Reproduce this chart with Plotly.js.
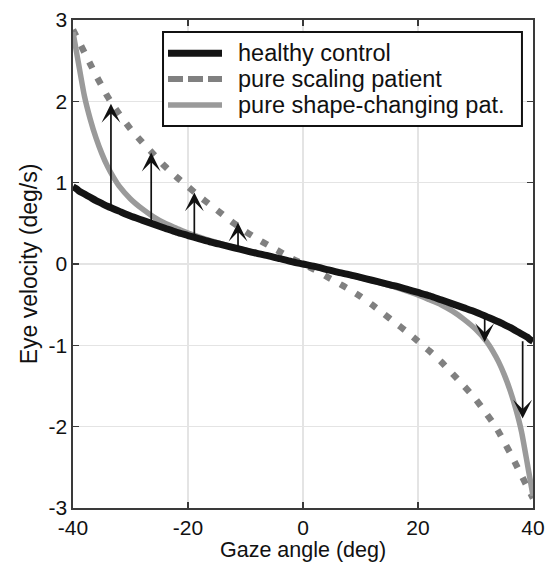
<!DOCTYPE html>
<html>
<head>
<meta charset="utf-8">
<script src="https://cdn.plot.ly/plotly-3.0.1.min.js"></script>
<style>html,body{margin:0;padding:0;background:#fff;}#chart{width:550px;height:562px;}</style>
</head>
<body>
<div id="chart"></div>
<script>
// Gaze angle samples (deg)
var gaze = [-40,-39.5,-39,-38,-37,-36,-35,-34,-33,-32,-30,-28,-26,-24,-22,-20,-18,-16,-14,-12,-10,-8,-6,-4,-2,0,
            2,4,6,8,10,12,14,16,18,20,22,24,26,28,30,32,33,34,35,36,37,38,39,39.5,40];
// Eye velocity (deg/s)
var healthy = [0.95,0.93,0.90,0.86,0.82,0.78,0.745,0.71,0.68,0.65,0.59,0.54,0.49,0.44,0.39,0.35,0.31,0.27,0.235,0.20,0.165,0.13,0.10,0.065,0.03,0,
               -0.03,-0.065,-0.10,-0.13,-0.165,-0.20,-0.235,-0.27,-0.31,-0.35,-0.39,-0.44,-0.49,-0.54,-0.59,-0.65,-0.68,-0.71,-0.745,-0.78,-0.82,-0.86,-0.90,-0.93,-0.95];
var scaling = [2.88,2.81,2.74,2.60,2.46,2.32,2.19,2.06,1.95,1.85,1.66,1.50,1.35,1.20,1.07,0.95,0.83,0.72,0.61,0.50,0.40,0.31,0.23,0.15,0.07,0,
               -0.07,-0.15,-0.23,-0.31,-0.40,-0.50,-0.61,-0.72,-0.83,-0.95,-1.07,-1.20,-1.35,-1.50,-1.66,-1.85,-1.95,-2.06,-2.19,-2.32,-2.46,-2.60,-2.74,-2.81,-2.88];
var shape = [2.85,2.65,2.45,2.06,1.78,1.55,1.36,1.20,1.07,0.96,0.80,0.68,0.58,0.50,0.44,0.38,0.33,0.285,0.245,0.205,0.17,0.135,0.10,0.067,0.033,0,
             -0.033,-0.067,-0.10,-0.135,-0.17,-0.205,-0.245,-0.285,-0.33,-0.38,-0.44,-0.50,-0.58,-0.68,-0.80,-0.96,-1.07,-1.20,-1.36,-1.55,-1.78,-2.06,-2.45,-2.65,-2.85];
var seriesNames = ['healthy control','pure scaling patient','pure shape-changing pat.'];
// Arrows: x position, start value, end value
var arrowX    = [-33.4,-26.4,-18.9,-11.3,31.6,38.2];
var arrowFrom = [0.69,0.49,0.33,0.19,-0.64,-0.93];
var arrowTo   = [1.97,1.37,0.88,0.51,-0.96,-1.90];
var xTicks = [-40,-20,0,20,40];
var yTicks = [-3,-2,-1,0,1,2,3];
var xTitle = 'Gaze angle (deg)', yTitle = 'Eye velocity (deg/s)';

var colHealthy = '#141414', colScaling = '#808080', colShape = '#9a9a9a';
var font = 'Liberation Sans, Arial, Helvetica, sans-serif';

var traces = [
  {x: gaze, y: scaling, mode:'lines', line:{color:colScaling, width:6.5, dash:'7px,11px', shape:'spline', smoothing:0.6}, showlegend:false, hoverinfo:'skip'},
  {x: gaze, y: shape, mode:'lines', line:{color:colShape, width:5.5, shape:'spline', smoothing:0.6}, showlegend:false, hoverinfo:'skip'},
  {x: gaze, y: healthy, mode:'lines', line:{color:colHealthy, width:7, shape:'spline', smoothing:0.6}, showlegend:false, hoverinfo:'skip'}
];

var annotations = [];
for (var i = 0; i < arrowX.length; i++) {
  annotations.push({x: arrowX[i], y: arrowTo[i], ax: arrowX[i], ay: arrowFrom[i], xref:'x', yref:'y', axref:'x', ayref:'y',
    text:'', showarrow:true, arrowhead:3, arrowsize:1.85, arrowwidth:1.7, arrowcolor:'#111', standoff:0, startstandoff:0});
}

// Custom legend (paper coords)
var lx0 = 0.1957, lx1 = 0.976, ly0 = 0.7828, ly1 = 0.9754;
var shapes = [
  {type:'rect', xref:'paper', yref:'paper', x0:lx0, x1:lx1, y0:ly0, y1:ly1, line:{color:'#111', width:2}, fillcolor:'#fff', layer:'above'}
];
var legRowsY = [0.932, 0.879, 0.826];
var legStyles = [
  {color:colHealthy, width:7, dash:'solid'},
  {color:colScaling, width:6, dash:'15px,5px'},
  {color:colShape, width:5.5, dash:'solid'}
];
var sx0 = (168-73)/460, sx1 = (222-73)/460;
for (var j = 0; j < 3; j++) {
  shapes.push({type:'line', xref:'paper', yref:'paper', x0:sx0, x1:sx1, y0:legRowsY[j], y1:legRowsY[j], line:legStyles[j], layer:'above'});
  annotations.push({xref:'paper', yref:'paper', x:(236-73)/460, y:legRowsY[j], xanchor:'left', yanchor:'middle', text:seriesNames[j], showarrow:false,
    font:{family:font, size:23.5, color:'#111'}});
}
// x-axis title as annotation (below tick labels)
annotations.push({xref:'paper', yref:'paper', x:0.5, y:(508-549.5)/488, xanchor:'center', yanchor:'middle', text:xTitle, showarrow:false,
  borderpad:0, font:{family:font, size:21.5, color:'#111'}});

var axisCommon = {
  showline:true, linecolor:'#3a3a3a', linewidth:1.6, mirror:'allticks',
  ticks:'inside', ticklen:6, tickwidth:1.6, tickcolor:'#3a3a3a',
  showgrid:true, gridcolor:'#e4e4e4', gridwidth:1.6, zeroline:false,
  tickfont:{family:font, size:21, color:'#111'}
};
var layout = {
  width:550, height:562,
  margin:{l:73, r:17, t:20, b:54, pad:0},
  paper_bgcolor:'#fff', plot_bgcolor:'#fff',
  xaxis: Object.assign({}, axisCommon, {range:[-40,40], tickvals:xTicks, ticktext:xTicks.map(String)}),
  yaxis: Object.assign({}, axisCommon, {range:[-3,3], tickvals:yTicks, ticktext:yTicks.map(String),
    title:{text:yTitle, font:{family:font, size:23, color:'#111'}, standoff:4}}),
  shapes: shapes,
  annotations: annotations,
  showlegend:false
};
Plotly.newPlot('chart', traces, layout, {displayModeBar:false, staticPlot:true});
</script>
</body>
</html>
